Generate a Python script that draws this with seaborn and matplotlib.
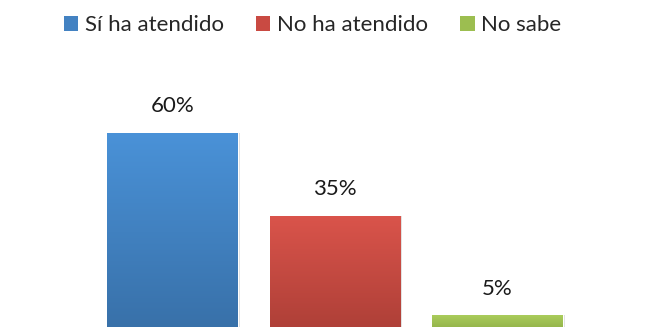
import matplotlib
matplotlib.use("Agg")
import matplotlib.pyplot as plt
import seaborn as sns
import numpy as np
import pandas as pd
from matplotlib.colors import LinearSegmentedColormap
from matplotlib.patches import Patch

categories = ["Sí ha atendido", "No ha atendido", "No sabe"]
values = [60, 35, 5]
labels = ["60%", "35%", "5%"]
top_colors = ["#4A92D8", "#DA544B", "#AACC5B"]
bottom_colors = ["#3870A8", "#AD3F37", "#8DAD45"]
mid_colors = ["#4382C2", "#C94A42", "#9CBE50"]

sns.set_theme(style="white")
plt.rcParams["font.family"] = ["Lato", "DejaVu Sans"]

df = pd.DataFrame({"cat": categories, "val": values})

fig = plt.figure(figsize=(6.47, 3.27), dpi=100)
ax = fig.add_axes([0, -5 / 327, 1, 332 / 327])

sns.barplot(data=df, x="cat", y="val", hue="cat", palette=mid_colors,
            width=0.806, ax=ax, legend=False, saturation=1)

bars = list(ax.patches)

# gradient fill clipped to each bar
for patch, c1, c2 in zip(bars, top_colors, bottom_colors):
    x0, y0 = patch.get_x(), patch.get_y()
    w, h = patch.get_width(), patch.get_height()
    cmap = LinearSegmentedColormap.from_list("g", [c2, c1])
    grad = np.linspace(0, 1, 256).reshape(-1, 1)
    im = ax.imshow(grad, extent=[x0, x0 + w, y0, y0 + h], origin="lower",
                   aspect="auto", cmap=cmap, zorder=patch.get_zorder() + 0.1)
    im.set_clip_path(patch)
    ax.add_patch(plt.Rectangle((x0 + w, y0), 0.012, h, color="#dcdcdc",
                               zorder=patch.get_zorder() - 0.1, lw=0))

ax.set_xlim(-172.5 / 162.5, (647 - 172.5) / 162.5)
ax.set_ylim(0, 100)

for patch, lab in zip(bars, labels):
    ax.annotate(lab, (patch.get_x() + patch.get_width() / 2, patch.get_height()),
                xytext=(0, 12), textcoords="offset points", ha="center",
                va="bottom", fontsize=16, color="#1a1a1a")

ax.set_axis_off()

handles = [Patch(facecolor=c, edgecolor="none") for c in mid_colors]
fig.legend(handles, categories, loc="upper center", bbox_to_anchor=(0.483, 1.015),
           ncol=3, frameon=False, fontsize=16, handlelength=0.65,
           handleheight=0.65, handletextpad=0.3, columnspacing=1.45)

fig.savefig("out.png", dpi=100)
